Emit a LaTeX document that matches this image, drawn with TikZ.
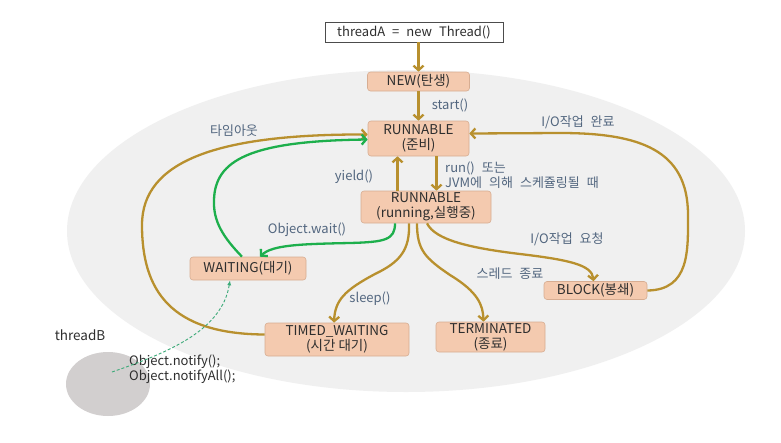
\documentclass[tikz,border=0pt]{standalone}
\usepackage{fontspec}
\setmainfont{Noto Sans CJK KR}
\newfontfamily\widefont{Noto Sans CJK KR}[WordSpace=2.4]
\usetikzlibrary{arrows.meta}
\definecolor{gold}{HTML}{B8902E}
\definecolor{grn}{HTML}{1DAF4C}
\definecolor{dgrn}{HTML}{3BAA78}
\definecolor{boxfill}{HTML}{F4CAAF}
\definecolor{boxline}{HTML}{D7AD92}
\definecolor{nodetext}{HTML}{2E2E2E}
\definecolor{lblcol}{HTML}{52667F}
\definecolor{bgell}{HTML}{F0F0F0}
\definecolor{circ}{HTML}{D2CFCF}
\begin{document}
\begin{tikzpicture}[x=1pt,y=-1pt,
  state/.style={draw=boxline, fill=boxfill, rounded corners=3pt, inner sep=0pt,
    align=center, font=\fontsize{13.5}{15}\selectfont, text=nodetext, line width=0.6pt},
  lbl/.style={text=lblcol, font=\widefont\fontsize{13}{14.5}\selectfont, inner sep=0pt, align=left},
  garrow/.style={draw=gold, line width=2.3pt, -{Straight Barb[length=4.5pt,width=10pt]}},
  grarrow/.style={draw=grn, line width=2.3pt, -{Straight Barb[length=4.5pt,width=10pt]}},
  darrow/.style={draw=dgrn, line width=0.9pt, dashed, dash pattern=on 3pt off 2pt, -{Latex[length=5pt,width=4pt]}}
]
\useasboundingbox (0,0) rectangle (781,442);
\fill[white] (0,0) rectangle (781,442);
\fill[bgell] (406,231) ellipse [x radius=339, y radius=161];
\fill[circ] (108,384) ellipse [x radius=42, y radius=32];

% nodes
\node[draw=black!70, fill=white, line width=0.7pt, minimum width=178pt, minimum height=20pt, inner sep=0pt,
  font=\widefont\fontsize{13}{15}\selectfont, text=nodetext] (tA) at (414,32) {threadA = new Thread()};
\node[state, minimum width=102pt, minimum height=19pt] (new) at (418.5,81.5) {NEW(탄생)};
\node[state, minimum width=101pt, minimum height=35pt] (run1) at (418.5,138.5) {RUNNABLE\\(준비)};
\node[state, minimum width=130pt, minimum height=32pt] (run2) at (426,207) {RUNNABLE\\(running,실행중)};
\node[state, minimum width=116pt, minimum height=23pt] (wait) at (248,268.5) {WAITING(대기)};
\node[state, minimum width=144pt, minimum height=33pt] (timed) at (337,339.5) {TIMED\_WAITING\\(시간 대기)};
\node[state, minimum width=109pt, minimum height=30pt] (term) at (490.5,337) {TERMINATED\\(종료)};
\node[state, minimum width=103pt, minimum height=18pt] (block) at (595.5,290.5) {BLOCK(봉쇄)};

% labels
\node[lbl] (lstart) at (450,105) {start()};
\node[lbl, anchor=north west] (lrun) at (445,162) {run() 또는\\JVM에 의해 스케쥴링될 때};
\node[lbl] (lyield) at (354,177) {yield()};
\node[lbl] (ltime) at (234,131) {타임아웃};
\node[lbl] (lwait) at (307,230) {Object.wait()};
\node[lbl] (lsleep) at (370,299) {sleep()};
\node[lbl] (lend) at (510,274) {스레드 종료};
\node[lbl] (lioreq) at (567,239) {I/O작업 요청};
\node[lbl] (liodone) at (578,122) {I/O작업 완료};
\node[lbl, text=nodetext, font=\fontsize{13.5}{15}\selectfont] (lthB) at (80,335) {threadB};
\node[lbl, text=nodetext, anchor=west, font=\fontsize{13}{13.5}\selectfont] (lnotify) at (129,369) {Object.notify();\\Object.notifyAll();};

\coordinate (nstart) at (112,372);

% connectors
\draw[garrow] (new.north |- tA.south) -- (new.north);
\draw[garrow] (new.south) -- (run1.north);
\draw[garrow] ([xshift=18pt]run1.south) -- ([xshift=18pt]run1.south |- run2.north);
\draw[garrow] ([xshift=-21pt]run1.south |- run2.north) -- ([xshift=-21pt]run1.south);
% timeout
\draw[garrow] ([yshift=5pt]timed.west) .. controls (170,334) and (142,290) .. (142,225)
  .. controls (142,160) and (220,134) .. ([yshift=4pt]run1.west);
% waiting -> runnable (green)
\draw[grarrow] ([xshift=-6pt]wait.north) .. controls (224,238) and (213,222) .. (214,200)
  .. controls (215,160) and (250,141) .. ([yshift=-1pt]run1.west);
% object.wait
\draw[grarrow] ([xshift=-31pt]run2.south) .. controls (395,240) and (385,242) .. (350,243)
  .. controls (300,244) and (272,245) .. ([xshift=12pt]wait.north);
% sleep
\draw[garrow] ([xshift=-17pt]run2.south) .. controls (410,250) and (400,262) .. (375,274)
  .. controls (345,290) and (335,300) .. ([xshift=-3pt]timed.north);
% terminate
\draw[garrow] ([xshift=-9pt]run2.south) .. controls (417,250) and (425,258) .. (450,275)
  .. controls (478,292) and (483,305) .. ([xshift=-7pt]term.north);
% io request
\draw[garrow] ([xshift=1pt]run2.south) .. controls (435,240) and (470,248) .. (520,254)
  .. controls (570,260) and (592,265) .. ([xshift=-2pt]block.north);
% io done
\draw[garrow] (block.east) .. controls (690,290) and (688,250) .. (688,215)
  .. controls (688,150) and (640,133) .. (560,133) -- ([yshift=5pt]run1.east);
% notify
\draw[darrow] (nstart) .. controls (170,352) and (222,330) .. ([xshift=-18pt]wait.south);
\end{tikzpicture}
\end{document}
